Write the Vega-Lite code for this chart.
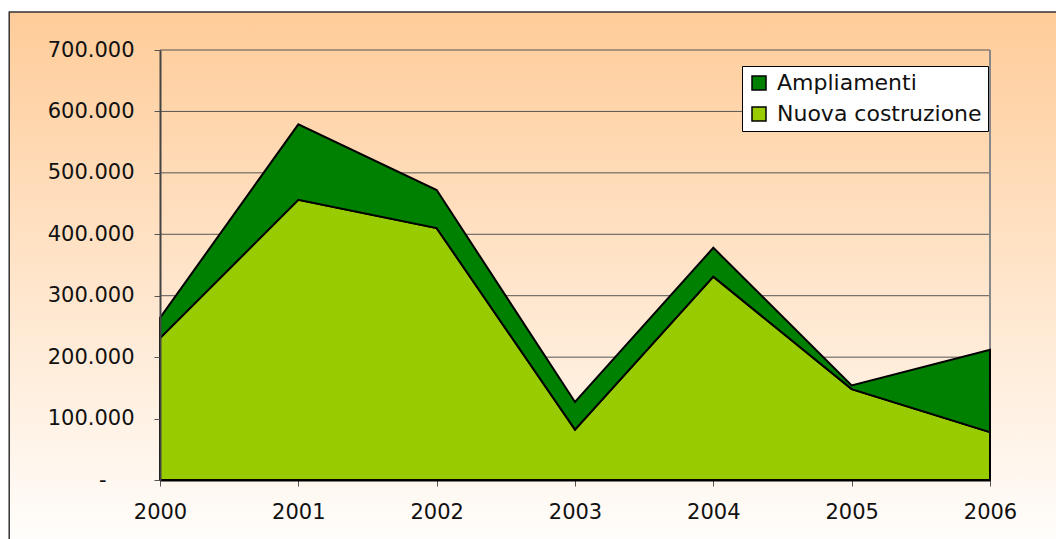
{
  "$schema": "https://vega.github.io/schema/vega-lite/v6.json",
  "autosize": {"type": "none"},
  "width": 830,
  "height": 430,
  "padding": {"left": 160, "top": 50, "right": 66, "bottom": 59},
  "background": "#FFFFFF",
  "config": {
    "font": "DejaVu Sans",
    "view": {"stroke": null}
  },
  "datasets": {
    "serie": [
      {"anno": 2000, "serie": "Nuova costruzione", "valore": 231000},
      {"anno": 2001, "serie": "Nuova costruzione", "valore": 456000},
      {"anno": 2002, "serie": "Nuova costruzione", "valore": 410000},
      {"anno": 2003, "serie": "Nuova costruzione", "valore": 82000},
      {"anno": 2004, "serie": "Nuova costruzione", "valore": 331000},
      {"anno": 2005, "serie": "Nuova costruzione", "valore": 148000},
      {"anno": 2006, "serie": "Nuova costruzione", "valore": 78000},
      {"anno": 2000, "serie": "Ampliamenti", "valore": 33000},
      {"anno": 2001, "serie": "Ampliamenti", "valore": 123000},
      {"anno": 2002, "serie": "Ampliamenti", "valore": 62000},
      {"anno": 2003, "serie": "Ampliamenti", "valore": 45000},
      {"anno": 2004, "serie": "Ampliamenti", "valore": 47000},
      {"anno": 2005, "serie": "Ampliamenti", "valore": 6000},
      {"anno": 2006, "serie": "Ampliamenti", "valore": 134000}
    ],
    "griglia": [
      {"g": 100000}, {"g": 200000}, {"g": 300000}, {"g": 400000},
      {"g": 500000}, {"g": 600000}, {"g": 700000}
    ],
    "cornice": [
      {"x0": 1998.91, "x1": 2007.2, "y0": -130000, "y1": 762000}
    ]
  },
  "layer": [
    {
      "data": {"name": "cornice"},
      "mark": {
        "type": "rect",
        "clip": false,
        "stroke": "#333333",
        "strokeWidth": 1.5,
        "color": {
          "gradient": "linear",
          "x1": 0, "y1": 0, "x2": 0, "y2": 1,
          "stops": [
            {"offset": 0, "color": "#FFCC99"},
            {"offset": 1, "color": "#FFFFFF"}
          ]
        }
      },
      "encoding": {
        "x": {"field": "x0", "type": "quantitative"},
        "x2": {"field": "x1"},
        "y": {"field": "y1", "type": "quantitative"},
        "y2": {"field": "y0"}
      }
    },
    {
      "data": {"name": "griglia"},
      "mark": {"type": "rule", "color": "#555555", "strokeWidth": 1},
      "encoding": {
        "y": {"field": "g", "type": "quantitative"}
      }
    },
    {
      "data": {"values": [{"a": 2006}]},
      "mark": {"type": "rule", "color": "#888888", "strokeWidth": 2},
      "encoding": {
        "x": {"field": "a", "type": "quantitative"}
      }
    },
    {
      "data": {"name": "serie"},
      "mark": {"type": "area", "opacity": 1, "stroke": "#000000", "strokeWidth": 2, "strokeJoin": "miter"},
      "encoding": {
        "x": {
          "field": "anno",
          "type": "quantitative",
          "scale": {"domain": [2000, 2006], "nice": false, "zero": false},
          "axis": {
            "title": null,
            "zindex": 2,
            "values": [2000, 2001, 2002, 2003, 2004, 2005, 2006],
            "format": "d",
            "grid": false,
            "domainColor": "#000000",
            "domainWidth": 2,
            "tickColor": "#555555",
            "tickSize": 6,
            "labelFont": "DejaVu Sans",
            "labelFontSize": 21,
            "labelColor": "#111111",
            "labelPadding": 15,
            "labelFlush": false
          }
        },
        "y": {
          "field": "valore",
          "type": "quantitative",
          "stack": "zero",
          "scale": {"domain": [0, 700000], "nice": false},
          "axis": {
            "title": null,
            "zindex": 2,
            "values": [0, 100000, 200000, 300000, 400000, 500000, 600000, 700000],
            "labelExpr": "datum.value == 0 ? '-' : format(datum.value / 1000, 'd') + '.000'",
            "grid": false,
            "domainColor": "#444444",
            "domainWidth": 2,
            "tickColor": "#555555",
            "tickSize": 6,
            "labelFont": "DejaVu Sans",
            "labelFontSize": 21,
            "labelColor": "#111111",
            "labelPadding": {"condition": {"test": "datum.value == 0", "value": 48}, "value": 20}
          }
        },
        "color": {
          "field": "serie",
          "type": "nominal",
          "scale": {"domain": ["Ampliamenti", "Nuova costruzione"], "range": ["#008000", "#99CC00"]},
          "legend": {
            "title": null,
            "orient": "none",
            "legendX": 582,
            "legendY": 16,
            "fillColor": "#FFFFFF",
            "strokeColor": "#000000",
            "padding": 6,
            "rowPadding": 9,
            "symbolType": "square",
            "symbolSize": 196,
            "symbolStrokeColor": "#000000",
            "symbolStrokeWidth": 1.5,
            "symbolOpacity": 1,
            "labelFont": "DejaVu Sans",
            "labelFontSize": 22,
            "labelColor": "#111111",
            "labelOffset": 7,
            "labelLimit": 400
          }
        },
        "order": {"field": "serie", "sort": "descending"}
      }
    }
  ]
}
